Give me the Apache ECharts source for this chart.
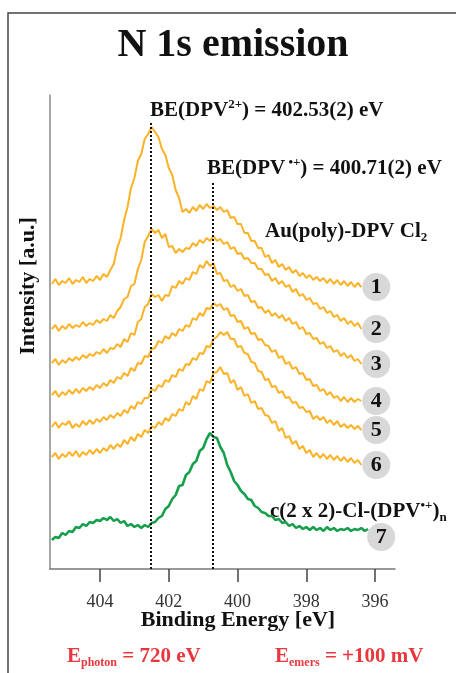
<!DOCTYPE html>
<html>
<head>
<meta charset="utf-8">
<script src="https://cdn.jsdelivr.net/npm/echarts@6/dist/echarts.min.js"></script>
<style>
html, body { margin: 0; padding: 0; background: #fff; }
#main { width: 456px; height: 673px; }
</style>
</head>
<body>
<div id="main"></div>
<script>
// binding energy grid of the spectra (eV), 0.1 eV steps from high to low
var eStart = 405.4;
var eStep = 0.1;

// Au(poly)-DPV Cl2 spectra 1..6, stacked intensity (a.u.)
var curve1 = [285,290,284,288,286,291,285,289,287,292,286,290,288,293,
  289,295,292,299,305,321,331,349,362,381,391,408,415,430,435,
  442,437,432,420,414,401,394,379,371,357,360,356,
  362,358,364,360,365,361,363,359,362,357,359,351,352,345,
  345,336,336,328,328,321,321,312,314,
  306,309,302,305,299,302,296,299,293,296,291,294,289,292,288,
  291,286,290,285,289,284,288,283,287,282,286,282];
var curve2 = [240,244,238,243,240,245,241,244,242,247,243,246,244,249,
  246,250,248,254,251,258,262,270,272,283,285,
  300,309,327,333,340,336,339,331,335,
  322,323,316,320,317,321,320,326,323,329,326,331,328,333,
  328,330,325,327,320,322,315,316,310,311,306,306,300,300,294,295,
  288,291,285,288,282,284,277,280,273,275,269,271,265,266,260,
  262,256,258,252,254,248,251,245,248,243,246,240];
var curve3 = [206,210,204,209,206,211,208,212,209,214,211,215,213,217,
  215,220,216,221,220,225,222,230,227,236,234,
  247,250,262,265,275,272,274,268,274,
  273,283,281,288,285,291,289,297,295,304,301,308,303,306,
  295,296,288,289,282,284,278,280,273,274,267,268,261,262,256,259,
  253,256,251,254,248,251,245,247,240,242,235,236,230,231,225,
  227,221,223,217,219,213,216,211,214,208,210,205];
var curve4 = [174,178,172,177,174,179,175,180,176,181,178,182,179,184,
  181,186,183,189,186,192,190,196,193,201,198,
  206,205,213,212,220,221,228,226,233,
  230,236,233,240,238,244,242,251,249,256,253,261,260,266,
  263,265,259,261,253,254,247,248,240,242,235,236,229,230,224,223,
  217,219,211,213,205,207,200,202,195,196,189,190,183,184,178,
  180,174,177,171,173,168,172,167,171,167,170,168];
var curve5 = [142,147,141,146,144,148,141,145,142,148,144,149,145,150,
  147,152,149,154,151,156,153,159,156,163,160,
  167,165,171,171,180,178,184,182,189,
  187,194,192,200,198,205,204,211,209,216,215,223,222,230,
  232,237,234,237,230,230,222,223,216,215,207,206,198,197,189,190,
  182,183,176,178,171,172,166,167,161,162,157,158,150,153,149,
  152,146,149,144,148,142,145,141,144,140,143,139];
var curve6 = [112,116,110,115,112,117,113,118,112,117,114,119,115,120,
  116,121,118,124,120,125,122,129,125,132,128,
  135,132,139,136,143,141,147,144,151,
  148,155,153,160,158,167,164,173,170,180,178,188,186,196,
  197,202,195,196,186,189,179,182,173,175,166,168,160,161,154,153,
  146,148,138,141,131,133,125,128,120,123,116,119,112,116,111,
  115,110,114,109,113,108,112,107,111,106,109,104];
// c(2 x 2)-Cl-(DPV.+)n spectrum 7
var curve7 = [29,32,31,36,34,38,37,42,41,45,43,47,46,49,
  48,51,49,52,48,50,46,48,43,45,42,44,41,44,42,46,47,
  51,53,60,63,70,74,83,84,94,97,105,108,118,121,130,136,
  132,131,122,116,104,97,88,84,78,75,70,69,63,61,
  57,56,53,53,49,50,46,47,43,45,41,43,40,42,39,42,
  39,41,38,42,39,41,38,40,39,41,38,40,39,41,38,40];

var curveNames = ['1', '2', '3', '4', '5', '6', '7'];
var tickValues = [404, 402, 400, 398, 396];
var peakEnergies = [402.53, 400.71];
var peakLineTops = [447, 387];

var serif = '"Liberation Serif", "Times New Roman", serif';
var orange = '#fbb226';
var green = '#16a04b';
var red = '#e8383d';

function toPairs(vals) {
  return vals.map(function (v, i) {
    return [Math.round((eStart - i * eStep) * 100) / 100, v];
  });
}

var richBlack = {
  b: { fontFamily: serif, fontSize: 21, fontWeight: 'bold', lineHeight: 25, fill: '#111' },
  sup: { fontFamily: serif, fontSize: 13, fontWeight: 'bold', lineHeight: 15, verticalAlign: 'top', fill: '#111' },
  sub: { fontFamily: serif, fontSize: 13, fontWeight: 'bold', lineHeight: 9, verticalAlign: 'bottom', fill: '#111' }
};
var richRed = {
  b: { fontFamily: serif, fontSize: 21, fontWeight: 'bold', lineHeight: 24, fill: red },
  sub: { fontFamily: serif, fontSize: 12, fontWeight: 'bold', lineHeight: 9, verticalAlign: 'bottom', fill: red }
};

var series = [];
var all = [curve1, curve2, curve3, curve4, curve5, curve6, curve7];
all.forEach(function (vals, k) {
  var data = toPairs(vals);
  var last = data[data.length - 1];
  var isGreen = k === 6;
  var s = {
    type: 'line',
    name: curveNames[k],
    data: data,
    showSymbol: false,
    lineStyle: { color: isGreen ? green : orange, width: isGreen ? 2.6 : 2 },
    z: isGreen ? 3 : 2,
    markPoint: {
      symbol: 'circle',
      symbolSize: 28,
      symbolOffset: isGreen ? [13, 8] : [15, 0],
      itemStyle: { color: '#d8d8d8' },
      label: {
        show: true,
        position: 'inside',
        formatter: curveNames[k],
        fontFamily: serif,
        fontSize: 22,
        fontWeight: 'bold',
        color: '#111'
      },
      data: [{ coord: last }]
    }
  };
  if (k === 0) {
    s.markLine = {
      silent: true,
      symbol: 'none',
      label: { show: false },
      lineStyle: { color: '#111', type: [2, 2], width: 2 },
      data: peakEnergies.map(function (e, j) {
        return [{ coord: [e, 0] }, { coord: [e, peakLineTops[j]] }];
      })
    };
  }
  series.push(s);
});

var myChart = echarts.init(document.getElementById('main'));

var option = {
  animation: false,
  backgroundColor: '#fff',
  grid: { left: 50, right: 61, top: 95, bottom: 104 },
  xAxis: {
    type: 'value',
    inverse: true,
    min: 395.42,
    max: 405.455,
    axisLine: { lineStyle: { color: '#777', width: 1.5 } },
    axisTick: { customValues: tickValues, length: 13, lineStyle: { color: '#444', width: 1.5 } },
    axisLabel: { customValues: tickValues, margin: 24, fontFamily: serif, fontSize: 18, color: '#333' },
    splitLine: { show: false }
  },
  yAxis: {
    type: 'value',
    min: 0,
    max: 474,
    axisLine: { show: true, lineStyle: { color: '#888', width: 1.5 } },
    axisTick: { show: false },
    axisLabel: { show: false },
    splitLine: { show: false }
  },
  graphic: [
    { type: 'rect', shape: { x: 8, y: 13, width: 470, height: 680 },
      style: { fill: 'none', stroke: '#444', lineWidth: 1.5 }, silent: true },
    { type: 'text', x: 233, y: 46,
      style: { text: 'N 1s emission', font: 'bold 40px ' + serif, fill: '#111', align: 'center', verticalAlign: 'middle' } },
    { type: 'text', x: 150, y: 111,
      style: { text: '{b|BE(DPV}{sup|2+}{b|) = 402.53(2) eV}', rich: richBlack, align: 'left', verticalAlign: 'middle' } },
    { type: 'text', x: 207, y: 169,
      style: { text: '{b|BE(DPV}{sup| •+}{b|) = 400.71(2) eV}', rich: richBlack, align: 'left', verticalAlign: 'middle' } },
    { type: 'text', x: 265, y: 232,
      style: { text: '{b|Au(poly)-DPV Cl}{sub|2}', rich: richBlack, align: 'left', verticalAlign: 'middle' } },
    { type: 'text', x: 270, y: 512,
      style: { text: '{b|c(2 x 2)-Cl-(DPV}{sup|•+}{b|)}{sub|n}', rich: richBlack, align: 'left', verticalAlign: 'middle' } },
    { type: 'text', x: 28, y: 286, rotation: Math.PI / 2,
      style: { text: 'Intensity [a.u.]', font: 'bold 22px ' + serif, fill: '#111', align: 'center', verticalAlign: 'middle' } },
    { type: 'text', x: 238, y: 620,
      style: { text: 'Binding Energy [eV]', font: 'bold 22px ' + serif, fill: '#111', align: 'center', verticalAlign: 'middle' } },
    { type: 'text', x: 67, y: 657,
      style: { text: '{b|E}{sub|photon}{b| = 720 eV}', rich: richRed, align: 'left', verticalAlign: 'middle' } },
    { type: 'text', x: 275, y: 657,
      style: { text: '{b|E}{sub|emers}{b| = +100 mV}', rich: richRed, align: 'left', verticalAlign: 'middle' } }
  ],
  series: series
};

myChart.setOption(option);
</script>
</body>
</html>
